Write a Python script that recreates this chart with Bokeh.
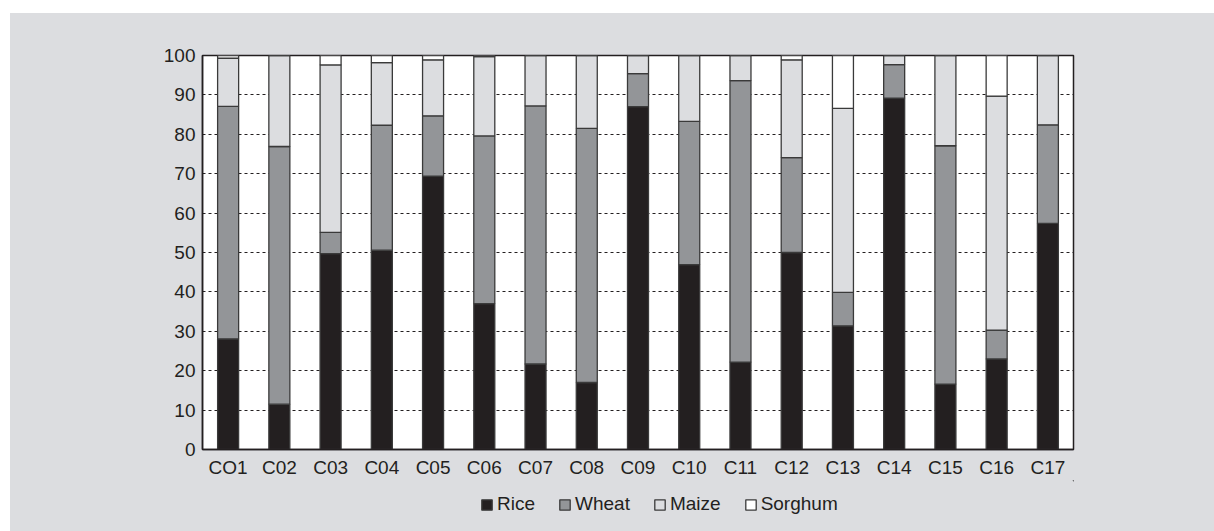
from bokeh.plotting import figure
from bokeh.models import (ColumnDataSource, Legend, LegendItem, Spacer, FixedTicker,
                          Range1d)
from bokeh.layouts import row, column
from bokeh.embed import file_html
from bokeh.resources import INLINE

categories = ["CO1", "C02", "C03", "C04", "C05", "C06", "C07", "C08", "C09",
              "C10", "C11", "C12", "C13", "C14", "C15", "C16", "C17"]
rice    = [28.1, 11.5, 49.7, 50.6, 69.4, 37.0, 21.7, 17.0, 87.0, 46.9, 22.2, 50.0, 31.4, 89.2, 16.6, 23.0, 57.4]
wheat   = [59.0, 65.4,  5.4, 31.7, 15.3, 42.6, 65.5, 64.5,  8.4, 36.4, 71.4, 24.1,  8.5,  8.5, 60.5,  7.3, 25.0]
maize   = [12.2, 23.1, 42.5, 15.9, 14.2, 20.1, 12.8, 18.5,  4.6, 16.7,  6.4, 24.8, 46.7,  2.3, 22.9, 59.4, 17.6]
sorghum = [ 0.7,  0.0,  2.4,  1.8,  1.1,  0.3,  0.0,  0.0,  0.0,  0.0,  0.0,  1.1, 13.4,  0.0,  0.0, 10.3,  0.0]
series = ["Rice", "Wheat", "Maize", "Sorghum"]
y_ticks = [0, 10, 20, 30, 40, 50, 60, 70, 80, 90, 100]

colors = ["#231f20", "#939598", "#dcdde0", "#ffffff"]
FONT = "Liberation Sans"
BG = "#dcdde0"
EDGE = "#3a3a3a"

source = ColumnDataSource(data=dict(cat=categories, Rice=rice, Wheat=wheat,
                                    Maize=maize, Sorghum=sorghum))

# main chart
p = figure(x_range=categories, y_range=(0, 100), width=1204, height=467,
           output_backend="svg", toolbar_location=None,
           min_border_left=192, min_border_right=141,
           min_border_top=42, min_border_bottom=30)
p.border_fill_color = BG
p.background_fill_color = "#ffffff"
p.outline_line_color = "#231f20"
p.outline_line_width = 1.5
p.x_range.range_padding = 0.0

p.vbar_stack(series, x="cat", width=0.41, source=source,
             fill_color=colors, line_color=EDGE, line_width=1.3)

p.xgrid.grid_line_color = None
p.ygrid.ticker = FixedTicker(ticks=[10, 20, 30, 40, 50, 60, 70, 80, 90])
p.ygrid.grid_line_color = "#231f20"
p.ygrid.grid_line_dash = "3 3"
p.ygrid.grid_line_width = 1.2

p.yaxis.ticker = FixedTicker(ticks=y_ticks)
for ax in (p.xaxis[0], p.yaxis[0]):
    ax.axis_line_color = "#231f20"
    ax.axis_line_width = 1.5
    ax.major_tick_line_color = None
    ax.minor_tick_line_color = None
    ax.major_tick_out = 0
    ax.major_tick_in = 0
    ax.major_label_text_font = FONT
    ax.major_label_text_font_size = "19px"
    ax.major_label_text_color = "#231f20"
p.yaxis.major_label_standoff = 7
p.xaxis.major_label_standoff = 7

# legend strip below the chart (transparent; the container supplies the grey)
lg = figure(width=1204, height=51, output_backend="svg", toolbar_location=None,
            x_range=Range1d(0, 1), y_range=Range1d(0, 1),
            x_axis_location=None, y_axis_location=None, min_border=0)
lg.border_fill_alpha = 0
lg.background_fill_alpha = 0
lg.outline_line_color = None
lg.xgrid.grid_line_color = None
lg.ygrid.grid_line_color = None
dummy = [lg.vbar(x=[5], top=[5], bottom=[4], width=0.1, fill_color=c,
                 line_color=EDGE, line_width=1.3)
         for c in colors]
items = [LegendItem(label=s, renderers=[r]) for s, r in zip(series, dummy)]
legend = Legend(items=items, orientation="horizontal", location=(278, 16),
                glyph_width=13, glyph_height=13, label_standoff=4, spacing=23,
                padding=0, margin=0, border_line_color=None,
                background_fill_alpha=0, label_text_font=FONT,
                label_text_font_size="19px", label_text_color="#231f20",
                label_height=20)
lg.add_layout(legend, "center")

inner = column(p, lg, styles={"background-color": BG})
layout = row(Spacer(width=10), column(Spacer(height=13), inner))
open("out.html", "w").write(file_html(layout, INLINE))
